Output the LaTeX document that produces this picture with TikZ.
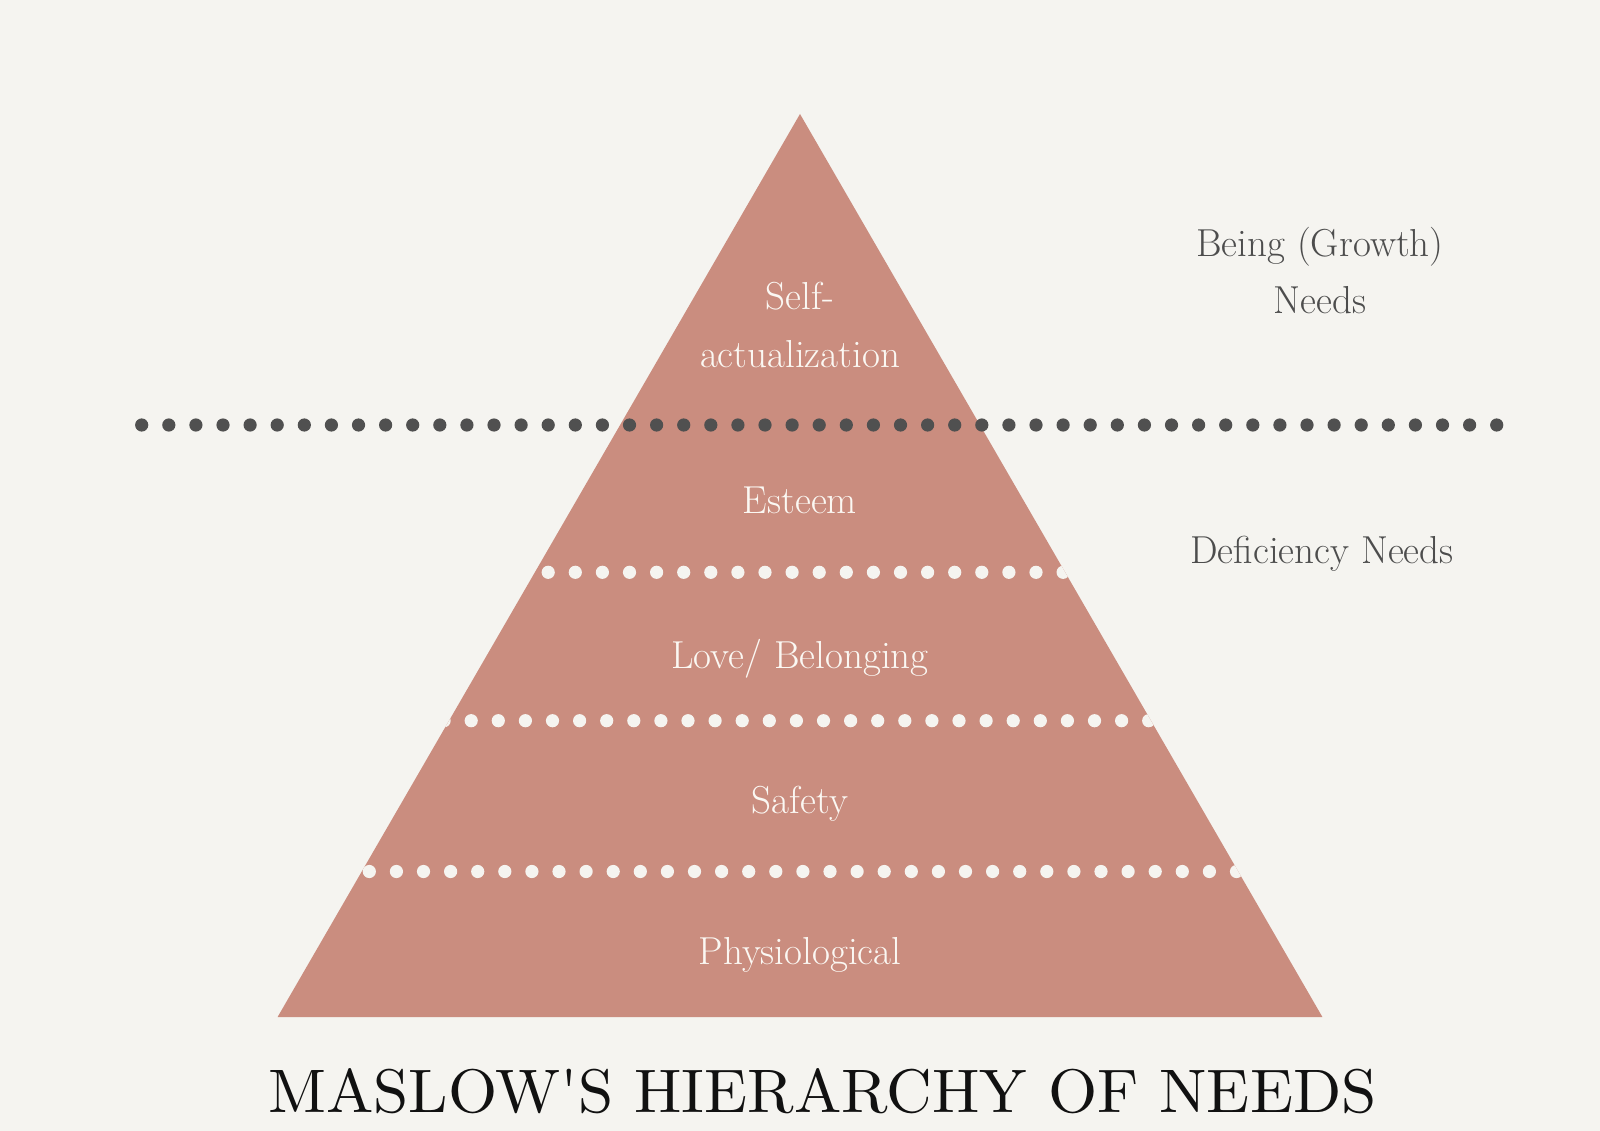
\documentclass[tikz,border=0pt]{standalone}
\usepackage{graphicx}
\definecolor{bg}{HTML}{F5F4F0}
\definecolor{pyr}{HTML}{CA8D7F}
\definecolor{darkdot}{HTML}{505050}
\definecolor{sidetext}{HTML}{4D4D4D}
\definecolor{intext}{HTML}{FBF8F3}
\definecolor{titlec}{HTML}{111111}
\tikzset{
  level/.style={anchor=base, text=intext, font=\fontsize{39}{44}\selectfont, inner sep=0pt},
  side/.style={anchor=base, text=sidetext, font=\fontsize{39}{44}\selectfont, inner sep=0pt},
  wdot/.style={fill=bg, draw=none},
  ddot/.style={fill=darkdot, draw=none}
}
\begin{document}
\begin{tikzpicture}[x=1pt,y=-1pt]
\fill[bg] (0,0) rectangle (1600,1131);
\useasboundingbox (0,0) rectangle (1600,1131);
\coordinate (apex) at (800,114);
\coordinate (bl) at (277.6,1017);
\coordinate (br) at (1322.4,1017);
\fill[pyr] (apex) -- (bl) -- (br) -- cycle;
\begin{scope}
  \clip (apex) -- (bl) -- (br) -- cycle;
  \foreach \k in {0,...,19} {\fill[wdot] (548.2+27.1*\k,572.3) circle (6.6);}
  \foreach \k in {0,...,26} {\fill[wdot] (444.1+27.1*\k,720.7) circle (6.6);}
  \foreach \k in {0,...,32} {\fill[wdot] (369.3+27.1*\k,871.5) circle (6.6);}
\end{scope}
\foreach \k in {0,...,50} {\fill[ddot] (141.7+27.1*\k,425) circle (6.6);}
\node[level] (self) at (800,310) {Self-};
\node[level] (act) at (800,367) {actualization};
\node[level] (est) at (800,513) {Esteem};
\node[level] (love) at (800,668) {Love/ Belonging};
\node[level] (saf) at (800,813) {Safety};
\node[level] (phys) at (800,964) {Physiological};
\node[side] (being) at (1320,257) {Being (Growth)};
\node[side] (needs) at (1320,314) {Needs};
\node[side] (def) at (1322,563) {Deficiency Needs};
\node[anchor=base west, inner sep=0pt, text=titlec] (title) at (268,1112)
  {\resizebox{1108pt}{44pt}{\rmfamily MASLOW\textquotesingle S HIERARCHY OF NEEDS}};
\end{tikzpicture}
\end{document}
